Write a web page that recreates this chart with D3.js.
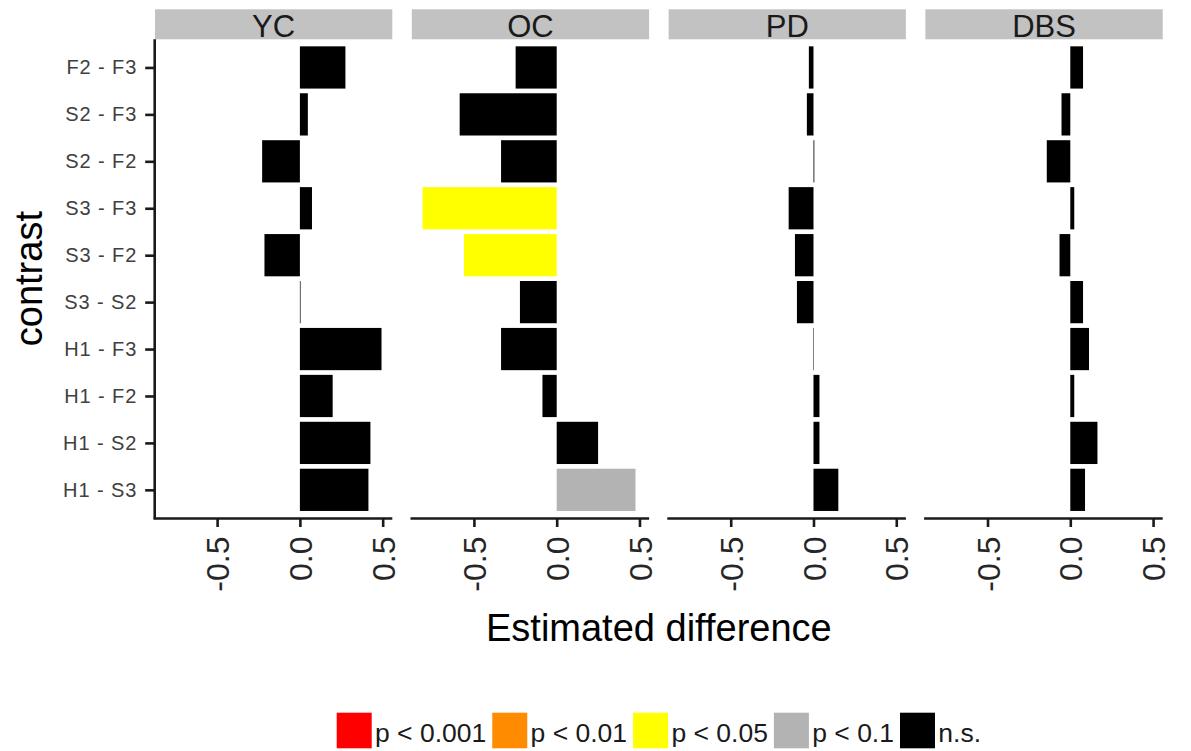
<!DOCTYPE html>
<html>
<head>
<meta charset="utf-8">
<script src="https://cdn.jsdelivr.net/npm/d3@7"></script>
<style>
  html, body { margin: 0; padding: 0; background: #ffffff; }
  svg { display: block; font-family: "Liberation Sans", Arial, Helvetica, sans-serif; }
</style>
</head>
<body>
<svg id="chart" width="1191" height="751"></svg>
<script>
// Facet groups and contrasts (top to bottom)
const groups = ["YC", "OC", "PD", "DBS"];
const contrasts = ["F2 - F3", "S2 - F3", "S2 - F2", "S3 - F3", "S3 - F2",
                   "S3 - S2", "H1 - F3", "H1 - F2", "H1 - S2", "H1 - S3"];

// Estimated differences per group, in the order of `contrasts`
const estYC  = [0.275, 0.048, -0.228, 0.073, -0.214, 0.004, 0.493, 0.198, 0.426, 0.414];
const estOC  = [-0.248, -0.586, -0.336, -0.810, -0.560, -0.222, -0.336, -0.086, 0.250, 0.476];
const estPD  = [-0.028, -0.040, 0.005, -0.150, -0.112, -0.100, 0.003, 0.036, 0.036, 0.150];
const estDBS = [0.077, -0.053, -0.142, 0.024, -0.065, 0.077, 0.113, 0.024, 0.164, 0.089];

// Significance class per group, same order
const sigYC  = ["n.s.", "n.s.", "n.s.", "n.s.", "n.s.", "n.s.", "n.s.", "n.s.", "n.s.", "n.s."];
const sigOC  = ["n.s.", "n.s.", "n.s.", "p < 0.05", "p < 0.05", "n.s.", "n.s.", "n.s.", "n.s.", "p < 0.1"];
const sigPD  = ["n.s.", "n.s.", "n.s.", "n.s.", "n.s.", "n.s.", "n.s.", "n.s.", "n.s.", "n.s."];
const sigDBS = ["n.s.", "n.s.", "n.s.", "n.s.", "n.s.", "n.s.", "n.s.", "n.s.", "n.s.", "n.s."];

// Significance legend
const sigLevels = ["p < 0.001", "p < 0.01", "p < 0.05", "p < 0.1", "n.s."];
const sigColors = ["#ff0000", "#ff8c00", "#ffff00", "#b3b3b3", "#000000"];

const xTicks = [-0.5, 0.0, 0.5];

const estimates = { YC: estYC, OC: estOC, PD: estPD, DBS: estDBS };
const signif = { YC: sigYC, OC: sigOC, PD: sigPD, DBS: sigDBS };

const svg = d3.select("#chart");

// Layout
const panelTop = 39.3, panelBottom = 518;
const panelLeft0 = 155, panelW = 237.3, panelGap = 19.5;
const stripTop = 9.3, stripH = 30;

const color = d3.scaleOrdinal().domain(sigLevels).range(sigColors);

// Shared x scale domain, expanded 5% on each side
const allVals = [].concat(estYC, estOC, estPD, estDBS);
const [vMin, vMax] = d3.extent(allVals);
const pad = (vMax - vMin) * 0.05;
const xDomain = [vMin - pad, vMax + pad];

const y = d3.scalePoint()
  .domain(contrasts)
  .range([panelTop, panelBottom])
  .padding(0.6);
const barH = y.step() * 0.9;

groups.forEach((g, gi) => {
  const left = panelLeft0 + gi * (panelW + panelGap);
  const x = d3.scaleLinear().domain(xDomain).range([left, left + panelW]);
  const panel = svg.append("g").attr("class", "panel");

  // strip
  panel.append("rect")
    .attr("x", left).attr("y", stripTop)
    .attr("width", panelW).attr("height", stripH)
    .attr("fill", "#c2c2c2");
  panel.append("text")
    .attr("x", left + panelW / 2).attr("y", stripTop + 27.5)
    .attr("text-anchor", "middle")
    .attr("font-size", 31)
    .attr("fill", "#1a1a1a")
    .text(g);

  // bars
  const rows = contrasts.map((c, i) => ({ c, v: estimates[g][i], s: signif[g][i] }));
  panel.selectAll("rect.bar")
    .data(rows)
    .join("rect")
    .attr("class", "bar")
    .attr("x", d => x(Math.min(0, d.v)))
    .attr("width", d => Math.abs(x(d.v) - x(0)))
    .attr("y", d => y(d.c) - barH / 2)
    .attr("height", barH)
    .attr("fill", d => color(d.s));

  // bottom axis
  const ax = panel.append("g")
    .attr("transform", `translate(0,${panelBottom})`)
    .call(d3.axisBottom(x).tickValues(xTicks).tickFormat(d3.format(".1f")).tickSize(9).tickSizeOuter(0));
  ax.select(".domain").attr("stroke", "#1a1a1a").attr("stroke-width", 2.6)
    .attr("d", `M${left - 1.3},0.5H${left + panelW}`);
  ax.selectAll(".tick line").attr("stroke", "#1a1a1a").attr("stroke-width", 2.6);
  ax.selectAll(".tick text")
    .attr("transform", "rotate(-90)")
    .attr("x", -18.5).attr("y", 0).attr("dy", "0.36em")
    .attr("text-anchor", "end")
    .attr("font-size", 32)
    .attr("font-family", null)
    .attr("fill", "#262626")
    .text(d => d3.format(".1f")(d).replace("−", "-"));
});

// left axis on the first panel only
const yAx = svg.append("g")
  .attr("transform", `translate(${panelLeft0 - 0.8},0)`)
  .call(d3.axisLeft(y).tickSize(9).tickPadding(8).tickSizeOuter(0));
yAx.select(".domain").attr("stroke", "#1a1a1a").attr("stroke-width", 2.6)
  .attr("d", `M0.5,${panelTop}V${panelBottom + 1.3}`);
yAx.selectAll(".tick line").attr("stroke", "#1a1a1a").attr("stroke-width", 2.6);
yAx.selectAll(".tick text")
  .attr("font-size", 20)
  .attr("letter-spacing", "0.9px")
  .attr("font-family", null)
  .attr("fill", "#404040");

// axis titles
const plotCenter = panelLeft0 + (4 * panelW + 3 * panelGap) / 2;
svg.append("text")
  .attr("x", plotCenter).attr("y", 641)
  .attr("text-anchor", "middle")
  .attr("font-size", 38)
  .attr("fill", "#000")
  .text("Estimated difference");
svg.append("text")
  .attr("transform", `translate(42,${(panelTop + panelBottom) / 2}) rotate(-90)`)
  .attr("text-anchor", "middle")
  .attr("font-size", 38)
  .attr("fill", "#000")
  .text("contrast");

// legend
const legend = svg.append("g");
const keyW = 35, keyH = 35.6, keyY = 712.7, textGap = 3.3, itemGap = 6;
const items = legend.selectAll("g.item").data(sigLevels).join("g").attr("class", "item");
items.append("rect")
  .attr("width", keyW).attr("height", keyH).attr("y", keyY)
  .attr("fill", d => color(d));
items.append("text")
  .attr("x", keyW + textGap).attr("y", 741.5)
  .attr("font-size", 26.5)
  .attr("fill", "#1a1a1a")
  .text(d => d);
const widths = [];
items.each(function () {
  const w = keyW + textGap + d3.select(this).select("text").node().getComputedTextLength();
  widths.push(w);
});
const totalW = d3.sum(widths) + itemGap * (widths.length - 1);
let cursor = plotCenter - totalW / 2;
items.each(function (d, i) {
  d3.select(this).attr("transform", `translate(${cursor},0)`);
  cursor += widths[i] + itemGap;
});
</script>
</body>
</html>
